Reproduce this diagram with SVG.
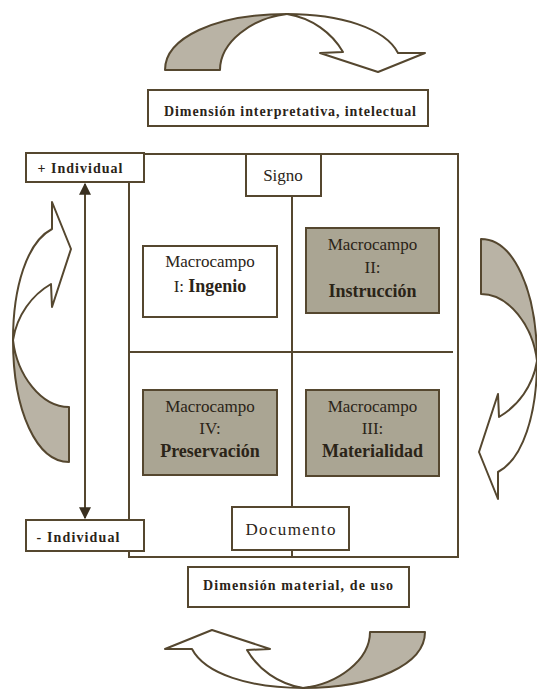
<svg xmlns="http://www.w3.org/2000/svg" xmlns:xlink="http://www.w3.org/1999/xlink" width="537" height="691" viewBox="0 0 537 691">
<style>
.ln{fill:none;stroke:#55472f;stroke-width:2}
.box{fill:#fff;stroke:#55472f;stroke-width:2}
.dark{fill:#aaa593;stroke:#55472f;stroke-width:2}
.sh{fill:#b9b3a5;stroke:#55472f;stroke-width:2;stroke-linejoin:round}
.wh{fill:#fff;stroke:#55472f;stroke-width:2;stroke-linejoin:round}
text{font-family:"Liberation Serif","Times New Roman",serif;fill:#2b2418;text-anchor:middle}
.t{font-size:17px}
.b{font-size:18px;font-weight:bold}
.h{font-size:14px;font-weight:bold}
</style>
<defs>
<marker id="ah" viewBox="0 0 10 10" refX="9" refY="5" markerWidth="6" markerHeight="6" orient="auto-start-reverse">
<path d="M0,0 L10,5 L0,10 Z" fill="#3a3020"/>
</marker>
<g id="carrow">
<path class="sh" d="M165,70 C165,38 215,14 287,14 C252,18 220,42 220,70 Z"/>
<path class="wh" d="M287,14 C340,14 385,28 398,53 L425,53 L378,72 L320,53 L343,52 C332,33 312,18 287,14 Z"/>
</g>
</defs>
<rect width="537" height="691" fill="#fff"/>

<g id="arrow-top"><use xlink:href="#carrow"/></g>
<g id="arrow-bottom"><use xlink:href="#carrow" transform="rotate(180 295 351)"/></g>
<g id="arrow-left"><use xlink:href="#carrow" transform="rotate(-90 313 314)"/></g>
<g id="arrow-right"><use xlink:href="#carrow" transform="translate(0 4) rotate(90 240.5 310.5)"/></g>

<g id="connectors">
<rect class="ln" x="129" y="154" width="329" height="403"/>
<line class="ln" x1="129" y1="352" x2="453" y2="352"/>
<line class="ln" x1="292" y1="196" x2="292" y2="507"/>
<line class="ln" x1="292" y1="550" x2="292" y2="557"/>
<line class="ln" x1="85" y1="184" x2="85" y2="518" marker-start="url(#ah)" marker-end="url(#ah)"/>
</g>

<g id="dim-top">
<rect class="box" x="148" y="90" width="280" height="36"/>
<text class="h" x="290" y="116" textLength="252">Dimensión interpretativa, intelectual</text>
</g>
<g id="dim-bottom">
<rect class="box" x="188" y="567" width="221" height="40"/>
<text class="h" x="298" y="590" textLength="190">Dimensión material, de uso</text>
</g>
<g id="ind-plus">
<rect class="box" x="26" y="153" width="118" height="29"/>
<text class="h" x="80" y="173" textLength="85">+ Individual</text>
</g>
<g id="ind-minus">
<rect class="box" x="26" y="520" width="118" height="31"/>
<text class="h" x="78" y="542" textLength="83">- Individual</text>
</g>
<g id="signo">
<rect class="box" x="246" y="154" width="75" height="42"/>
<text class="t" x="283" y="181">Signo</text>
</g>
<g id="documento">
<rect class="box" x="232" y="507" width="117" height="43"/>
<text class="t" x="290.5" y="535" textLength="90">Documento</text>
</g>
<g id="mc1">
<rect class="box" x="143" y="246" width="134" height="71"/>
<text class="t" x="210" y="267">Macrocampo</text>
<text x="210" y="292"><tspan class="t">I: </tspan><tspan class="b">Ingenio</tspan></text>
</g>
<g id="mc2">
<rect class="dark" x="306" y="228" width="133" height="85"/>
<text class="t" x="372.5" y="250">Macrocampo</text>
<text class="t" x="372.5" y="273">II:</text>
<text class="b" x="372.5" y="297">Instrucción</text>
</g>
<g id="mc4">
<rect class="dark" x="143" y="390" width="134" height="85"/>
<text class="t" x="210" y="412">Macrocampo</text>
<text class="t" x="210" y="434">IV:</text>
<text class="b" x="210" y="457">Preservación</text>
</g>
<g id="mc3">
<rect class="dark" x="306" y="390" width="133" height="86"/>
<text class="t" x="372.5" y="412">Macrocampo</text>
<text class="t" x="372.5" y="434">III:</text>
<text class="b" x="372.5" y="457">Materialidad</text>
</g>
</svg>
